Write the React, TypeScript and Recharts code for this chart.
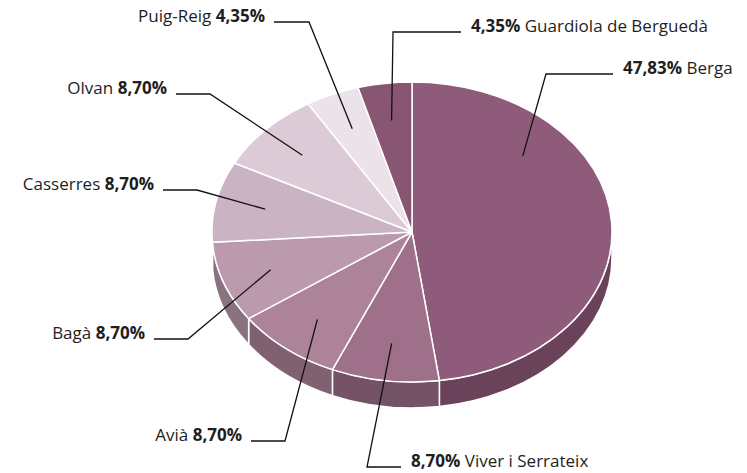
import React from 'react';
import { PieChart, Pie, Cell } from 'recharts';

const municipalities = [
  'Berga',
  'Viver i Serrateix',
  'Avià',
  'Bagà',
  'Casserres',
  'Olvan',
  'Puig-Reig',
  'Guardiola de Berguedà',
];
const shares = [47.83, 8.7, 8.7, 8.7, 8.7, 8.7, 4.35, 4.35];
const sliceColors = ['#8f5b7b', '#9e708a', '#ac8399', '#bb9aae', '#cab3c3', '#dccbd6', '#ebe3e9', '#885672'];

const data = municipalities.map((name, i) => ({ name, value: shares[i] }));

// tilt of the fake 3D disc
const RATIO = 0.75;
const DEPTH = 26;

// where each callout bends and ends (layout only)
const labelLayout: Record<string, { elbow: [number, number]; end: [number, number]; shift?: number }> = {
  Berga: { elbow: [546, 74], end: [613, 74], shift: -38.5 },
  'Viver i Serrateix': { elbow: [367, 467], end: [401, 467] },
  Avià: { elbow: [285, 441], end: [251, 441] },
  Bagà: { elbow: [188, 339], end: [154, 339] },
  Casserres: { elbow: [197, 190], end: [163, 190] },
  Olvan: { elbow: [210, 94], end: [176, 94] },
  'Puig-Reig': { elbow: [309, 22], end: [274, 22] },
  'Guardiola de Berguedà': { elbow: [393, 32], end: [461, 32] },
};

const rad = (d: number) => (d * Math.PI) / 180;

// theta measured clockwise from 12 o'clock
const pt = (cx: number, cy: number, r: number, theta: number, dy = 0) => [
  cx + r * Math.sin(rad(theta)),
  cy - r * RATIO * Math.cos(rad(theta)) + dy,
];

const darken = (hex: string, k = 0.74) => {
  const n = parseInt(hex.slice(1), 16);
  const c = [(n >> 16) & 255, (n >> 8) & 255, n & 255].map((v) => Math.round(v * k));
  return `rgb(${c[0]},${c[1]},${c[2]})`;
};

const TopSlice = (p: any) => {
  const { cx, cy, outerRadius: r, startAngle, endAngle, fill } = p;
  const t1 = 90 - startAngle;
  const t2 = 90 - endAngle;
  const [x1, y1] = pt(cx, cy, r, t1);
  const [x2, y2] = pt(cx, cy, r, t2);
  const large = t2 - t1 > 180 ? 1 : 0;
  const d = `M${cx},${cy}L${x1},${y1}A${r},${r * RATIO} 0 ${large} 1 ${x2},${y2}Z`;
  return <path d={d} fill={fill} stroke="#fff" strokeWidth={1.5} strokeLinejoin="round" />;
};

const SideSlice = (p: any) => {
  const { cx, cy, outerRadius: r, startAngle, endAngle, fill } = p;
  const a = Math.max(90 - startAngle, 90);
  const b = Math.min(90 - endAngle, 270);
  if (a >= b) return <g />;
  const [x1, y1] = pt(cx, cy, r, a);
  const [x2, y2] = pt(cx, cy, r, b);
  const [x3, y3] = pt(cx, cy, r, b, DEPTH);
  const [x4, y4] = pt(cx, cy, r, a, DEPTH);
  const ry = r * RATIO;
  const d = `M${x1},${y1}A${r},${ry} 0 0 1 ${x2},${y2}L${x3},${y3}A${r},${ry} 0 0 0 ${x4},${y4}Z`;
  return <path d={d} fill={darken(fill)} stroke="#fff" strokeWidth={1.5} strokeLinejoin="round" />;
};

const fmt = (v: number) => `${v.toFixed(2).replace('.', ',')}%`;

const renderLabel = (p: any) => {
  const name = p.name ?? p.payload?.name;
  const lay = labelLayout[name];
  if (!lay) return null;
  const theta = 90 - p.midAngle + (lay.shift ?? 0);
  const [ax, ay] = pt(p.cx, p.cy, p.outerRadius * 0.75, theta);
  const [ex, ey] = lay.elbow;
  const [fx, fy] = lay.end;
  const right = fx > ex;
  const pct = fmt(p.value);
  return (
    <g>
      <polyline points={`${ax},${ay} ${ex},${ey} ${fx},${fy}`} fill="none" stroke="#111" strokeWidth={1.3} />
      {right ? (
        <text x={fx + 10} y={fy} textAnchor="start" fontSize={17} fill="#1e1e1e">
          <tspan fontWeight={700}>{pct}</tspan>
          {' '}
          {name}
        </text>
      ) : (
        <text x={fx - 9} y={fy} textAnchor="end" fontSize={17} fill="#1e1e1e">
          {name}{' '}
          <tspan fontWeight={700}>{pct}</tspan>
        </text>
      )}
    </g>
  );
};

export default function App() {
  return (
    <div style={{ position: 'absolute', left: 0, top: 0, width: 747, height: 473, background: '#fff', fontFamily: '"Open Sans", sans-serif' }}>
      <PieChart width={747} height={473} margin={{ top: 0, right: 0, bottom: 0, left: 0 }}>
        <Pie
          data={data}
          dataKey="value"
          nameKey="name"
          cx={412}
          cy={232}
          outerRadius={200}
          startAngle={90}
          endAngle={-270}
          shape={SideSlice}
          isAnimationActive={false}
          label={false}
          labelLine={false}
        >
          {data.map((d, i) => (
            <Cell key={`side-${d.name}`} fill={sliceColors[i]} />
          ))}
        </Pie>
        <Pie
          data={data}
          dataKey="value"
          nameKey="name"
          cx={412}
          cy={232}
          outerRadius={200}
          startAngle={90}
          endAngle={-270}
          shape={TopSlice}
          isAnimationActive={false}
          label={renderLabel}
          labelLine={false}
        >
          {data.map((d, i) => (
            <Cell key={`top-${d.name}`} fill={sliceColors[i]} />
          ))}
        </Pie>
      </PieChart>
    </div>
  );
}
